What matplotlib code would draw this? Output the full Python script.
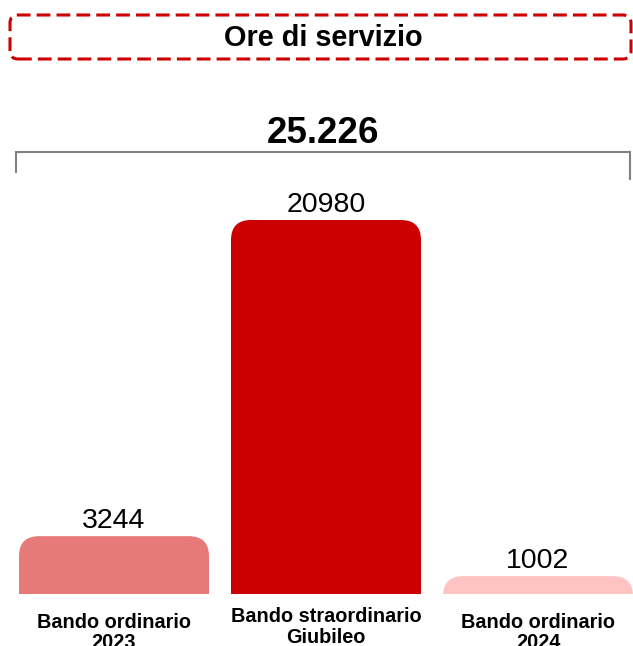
import matplotlib
matplotlib.use("Agg")
import matplotlib.pyplot as plt
from matplotlib.patches import FancyBboxPatch

plt.rcParams['font.family'] = ['Liberation Sans', 'DejaVu Sans']

# --- data ---
categories = ["Bando ordinario\n2023", "Bando straordinario\nGiubileo", "Bando ordinario\n2024"]
hours = [3244, 20980, 1002]
bar_colors = ["#E57A78", "#CC0000", "#FFC4C2"]
title_text = "Ore di servizio"

total = sum(hours)
total_label = f"{total:,}".replace(",", ".")

# --- figure / axes geometry (pixels) ---
W, H = 633, 646
fig = plt.figure(figsize=(W / 100, H / 100), dpi=100)
base_px = 594            # baseline of the bars, from the top
ax = fig.add_axes([0, (H - base_px) / H, 1, base_px / H])
ax.set_axis_off()

px_x = 212               # pixels per category step
k = 20980 / 374          # data units per pixel (vertical)
ax.set_xlim(-114 / px_x, (W - 114) / px_x)
ax.set_ylim(0, base_px * k)

# --- rounded-top bars ---
bar_w = 190 / px_x
r_px = 20
rx = r_px / px_x
ry = r_px * k
for i, (v, c) in enumerate(zip(hours, bar_colors)):
    y0 = -3 * ry
    patch = FancyBboxPatch((i - bar_w / 2, y0), bar_w, v - y0,
                           boxstyle=f"round,pad=0,rounding_size={rx}",
                           mutation_aspect=ry / rx,
                           facecolor=c, edgecolor="none")
    ax.add_patch(patch)
    ax.annotate(str(v), (i, v), xytext=(0, 8 * 0.72), textcoords="offset points",
                ha="center", va="baseline", fontsize=20.5, color="black")

# --- category labels under the bars (baseline of the last line) ---
label_base = [648, 643, 648]
for i, lab in enumerate(categories):
    ax.text(i, (base_px - label_base[i]) * k, lab, ha="center", va="baseline",
            fontsize=14.3, fontweight="bold", linespacing=1.1)

# --- bracket with the total ---
left = -bar_w / 2 - 3 / px_x
right = 2 + bar_w / 2 - 3 / px_x
y_br = (base_px - 152) * k
ax.plot([left, left, right, right],
        [(base_px - 172) * k, y_br, y_br, (base_px - 179) * k],
        color="#808080", lw=1.5, solid_joinstyle="miter", clip_on=False)
ax.text((left + right) / 2, (base_px - 143) * k, total_label, ha="center",
        va="baseline", fontsize=26.5, fontweight="bold")

# --- dashed title box ---
bx0, bx1, by0, by1 = 10, 631, 15, 59
box = FancyBboxPatch((bx0 / W, (H - by1) / H), (bx1 - bx0) / W, (by1 - by0) / H,
                     boxstyle=f"round,pad=0,rounding_size={8 / W}",
                     mutation_aspect=W / H, transform=fig.transFigure,
                     facecolor="none", edgecolor="#CC0000", lw=2.2,
                     linestyle=(0, (4.5, 2)))
fig.patches.append(box)
fig.text(323.5 / W, (H - 46) / H, title_text, ha="center", va="baseline",
         fontsize=20.8, fontweight="bold")

fig.savefig("out.png", dpi=100)
